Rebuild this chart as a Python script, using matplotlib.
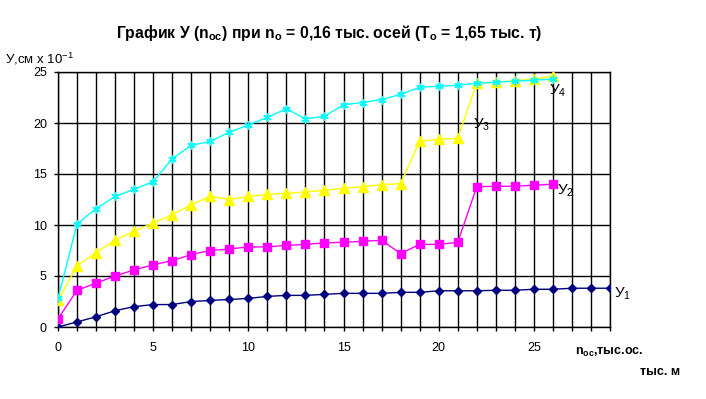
import matplotlib
matplotlib.use('Agg')
import matplotlib.pyplot as plt
from matplotlib.ticker import MultipleLocator

plt.rcParams['font.family'] = ['Liberation Sans', 'DejaVu Sans']

x1 = list(range(0, 30))
y1 = [0, 0.5, 1.0, 1.6, 2.0, 2.2, 2.2, 2.5, 2.6, 2.7, 2.8, 3.0, 3.1, 3.1, 3.2,
      3.3, 3.3, 3.3, 3.4, 3.4, 3.55, 3.55, 3.55, 3.6, 3.6, 3.7, 3.7, 3.8, 3.8, 3.8]

x2 = list(range(0, 27))
y2 = [0.8, 3.6, 4.3, 5.0, 5.6, 6.1, 6.5, 7.1, 7.5, 7.65, 7.85, 7.85, 8.0, 8.1,
      8.25, 8.3, 8.4, 8.5, 7.2, 8.1, 8.1, 8.3, 13.75, 13.8, 13.8, 13.9, 14.0]

x3 = list(range(0, 27))
y3 = [2.6, 6.0, 7.3, 8.5, 9.4, 10.2, 11.0, 12.0, 12.8, 12.5, 12.8, 13.0, 13.1,
      13.25, 13.4, 13.6, 13.75, 13.95, 14.05, 18.2, 18.4, 18.5, 23.9, 24.0,
      24.15, 24.3, 24.6]

x4 = list(range(0, 27))
y4 = [2.8, 10.1, 11.6, 12.8, 13.5, 14.25, 16.5, 17.8, 18.2, 19.1, 19.8, 20.55,
      21.4, 20.4, 20.65, 21.8, 22.0, 22.3, 22.8, 23.5, 23.6, 23.7, 23.9, 24.0,
      24.1, 24.2, 24.3]


def main():
  fig = plt.figure(figsize=(7.06, 3.99), dpi=100)
  ax = fig.add_axes([58 / 706, 1 - 327 / 399, 552 / 706, 255 / 399])

  ax.plot(x1, y1, color='#000080', lw=1, marker='D', ms=4.5, zorder=5)
  ax.plot(x2, y2, color='#ff00ff', lw=1, marker='s', ms=5.5, zorder=5)
  ax.plot(x3, y3, color='#ffff00', lw=1, marker='^', ms=6.5, zorder=5)
  ax.plot(x4, y4, color='#00ffff', lw=1, marker=(6, 2, 0), ms=6, mew=1, zorder=6)

  ax.set_xlim(0, 29)
  ax.set_ylim(0, 25)
  ax.xaxis.set_major_locator(MultipleLocator(5))
  ax.xaxis.set_minor_locator(MultipleLocator(1))
  ax.yaxis.set_major_locator(MultipleLocator(5))
  ax.grid(True, which='both', axis='x', color='black', lw=1)
  ax.grid(True, which='major', axis='y', color='black', lw=1)
  for s in ax.spines.values():
    s.set_linewidth(1)
  ax.tick_params(which='both', direction='out', length=3, width=1, labelsize=9)
  ax.tick_params(axis='x', pad=8)
  ax.tick_params(axis='y', pad=5)

  fig.text(329 / 706, 1 - 33 / 399, 'График У (n$_{\\mathregular{ос}}$) при n$_{\\mathregular{о}}$ = 0,16 тыс. осей (Т$_{\\mathregular{о}}$ = 1,65 тыс. т)',
           ha='center', va='center', fontsize=11.3, fontweight='bold')
  fig.text(5 / 706, 1 - 59 / 399, 'У,см х 10$^{\\mathregular{-1}}$', ha='left', va='center', fontsize=9.5)
  fig.text(575 / 706, 1 - 352 / 399, 'n$_{\\mathregular{ос}}$,тыс.ос.', ha='left', va='center',
           fontsize=9, fontweight='bold')
  fig.text(640 / 706, 1 - 372 / 399, 'тыс. м', ha='left', va='center', fontsize=9, fontweight='bold')

  lab = dict(fontsize=11, ha='left', va='center')
  ax.text(29.2, 3.3, 'У$_{\\mathregular{1}}$', **lab)
  ax.text(26.2, 13.4, 'У$_{\\mathregular{2}}$', **lab)
  ax.text(21.8, 19.8, 'У$_{\\mathregular{3}}$', **lab)
  ax.text(25.8, 23.2, 'У$_{\\mathregular{4}}$', **lab)

  plt.savefig('out.png', dpi=100)


if __name__ == "__main__":
  main()
